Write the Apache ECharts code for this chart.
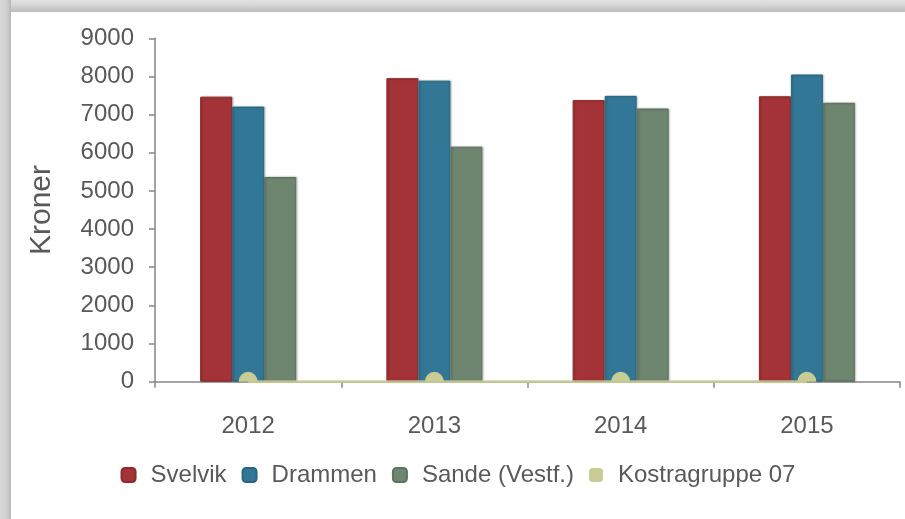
<!DOCTYPE html>
<html>
<head>
<meta charset="utf-8">
<script src="https://cdn.jsdelivr.net/npm/echarts@6/dist/echarts.min.js"></script>
<style>
  html, body { margin: 0; padding: 0; background: #fff; }
  .frame {
    position: relative;
    width: 905px;
    height: 519px;
    background: linear-gradient(to bottom, #e2e2e2 0px, #d6d6d6 5px, #c0c0c0 11px);
    overflow: hidden;
  }
  .frame::before {
    content: '';
    position: absolute;
    left: 0; top: 0; width: 11px; height: 519px;
    background: linear-gradient(to right, #d8d8d8 0px, #d0d0d0 7px, #b6b6b6 11px);
  }
  #chart {
    position: absolute;
    left: 11px;
    top: 12px;
    width: 894px;
    height: 507px;
    background: #fff;
  }
</style>
</head>
<body>
<div class="frame">
  <div id="chart"></div>
</div>
<script>
const years = ['2012', '2013', '2014', '2015']
const svelvik = [7470, 7955, 7380, 7480]
const drammen = [7210, 7890, 7490, 8050]
const sande = [5365, 6160, 7160, 7310]
const kostra = [0, 0, 0, 0]

const textColor = '#595959'
const axisColor = '#868686'
const font = 'Arial, "Liberation Sans", sans-serif'

const chart = echarts.init(document.getElementById('chart'))

const barSeries = (name, data, color, border) => ({
  name,
  type: 'bar',
  data,
  barWidth: 32,
  barGap: '0%',
  itemStyle: {
    color,
    borderColor: border,
    borderWidth: 1,
    shadowColor: 'rgba(0,0,0,0.25)',
    shadowBlur: 2,
    shadowOffsetX: 1
  }
})

const option = {
  animation: false,
  textStyle: { fontFamily: font },
  grid: {
    left: 144,
    right: 5,
    top: 26.3,
    bottom: 137.3
  },
  legend: {
    bottom: 27,
    left: 'center',
    icon: 'roundRect',
    itemWidth: 14,
    itemHeight: 14,
    itemGap: 15,
    textStyle: {
      color: textColor,
      fontSize: 24,
      fontFamily: font,
      padding: [0, 0, 0, 10]
    },
    data: ['Svelvik', 'Drammen', 'Sande (Vestf.)', 'Kostragruppe 07']
  },
  xAxis: {
    type: 'category',
    data: years,
    axisLine: { lineStyle: { color: axisColor, width: 1.5 } },
    axisTick: { show: true, length: 6, lineStyle: { color: axisColor, width: 1.5 } },
    axisLabel: { color: textColor, fontSize: 24, margin: 33 }
  },
  yAxis: {
    type: 'value',
    min: 0,
    max: 9000,
    interval: 1000,
    name: 'Kroner',
    nameLocation: 'middle',
    nameGap: 98,
    nameRotate: 90,
    nameTextStyle: { color: textColor, fontSize: 30, fontFamily: font },
    axisLine: { show: true, lineStyle: { color: axisColor, width: 1.5 } },
    axisTick: { show: true, length: 6, lineStyle: { color: axisColor, width: 1.5 } },
    axisLabel: {
      color: textColor,
      fontSize: 24,
      margin: 21,
      formatter: (value) => String(value)
    },
    splitLine: { show: false }
  },
  series: [
    barSeries('Svelvik', svelvik, '#a33336', '#8e2a2d'),
    barSeries('Drammen', drammen, '#327896', '#286681'),
    barSeries('Sande (Vestf.)', sande, '#6e8570', '#5d725f'),
    {
      name: 'Kostragruppe 07',
      type: 'line',
      data: kostra,
      color: '#c9cc95',
      lineStyle: { color: '#c9cc95', width: 3, opacity: 0.85 },
      symbol: 'path://M0,10 A10,10 0 0 1 20,10 Z',
      symbolSize: [19, 10],
      symbolOffset: [0, '-50%'],
      showSymbol: true,
      itemStyle: { color: '#c9cc95', opacity: 1 },
      z: 5
    }
  ]
}

chart.setOption(option)
</script>
</body>
</html>
